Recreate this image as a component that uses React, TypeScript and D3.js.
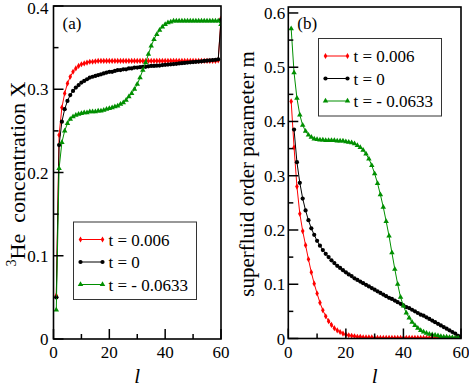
import React from "react";
import * as d3 from "d3";

// lattice layer index l = 1..60
const layers = d3.range(1, 61);

// (a) 3He concentration X
const concRed = [
  0.052, 0.245, 0.278, 0.295, 0.307, 0.315, 0.321, 0.325, 0.328, 0.33,
  0.331, 0.332, 0.333, 0.333, 0.3335, 0.334, 0.334, 0.334, 0.334, 0.334,
  0.334, 0.334, 0.334, 0.334, 0.334, 0.334, 0.334, 0.334, 0.334, 0.334,
  0.334, 0.334, 0.334, 0.334, 0.334, 0.334, 0.334, 0.334, 0.334, 0.334,
  0.334, 0.334, 0.334, 0.334, 0.334, 0.334, 0.334, 0.334, 0.334, 0.334,
  0.334, 0.334, 0.334, 0.334, 0.334, 0.334, 0.334, 0.334, 0.3345, 0.385,
];
const concBlack = [
  0.05, 0.233, 0.261, 0.276, 0.286, 0.293, 0.298, 0.302, 0.305, 0.308,
  0.31, 0.312, 0.314, 0.315, 0.316, 0.317, 0.318, 0.319, 0.32, 0.321,
  0.321, 0.322, 0.323, 0.323, 0.324, 0.324, 0.325, 0.325, 0.326, 0.326,
  0.3265, 0.327, 0.327, 0.3275, 0.328, 0.328, 0.3283, 0.3285, 0.329, 0.3293,
  0.3296, 0.33, 0.3303, 0.3306, 0.331, 0.3313, 0.3316, 0.332, 0.3323, 0.3326,
  0.333, 0.3333, 0.3336, 0.334, 0.3343, 0.3346, 0.335, 0.3353, 0.336, 0.383,
];
const concGreen = [
  0.035, 0.205, 0.236, 0.25, 0.259, 0.264, 0.267, 0.269, 0.27, 0.271,
  0.272, 0.272, 0.273, 0.273, 0.273, 0.274, 0.274, 0.275, 0.276, 0.277,
  0.278, 0.279, 0.28, 0.282, 0.284, 0.287, 0.291, 0.295, 0.3, 0.306,
  0.314, 0.323, 0.332, 0.342, 0.352, 0.36, 0.366, 0.371, 0.375, 0.378,
  0.38, 0.381, 0.382, 0.382, 0.382, 0.382, 0.382, 0.382, 0.382, 0.382,
  0.382, 0.382, 0.382, 0.382, 0.382, 0.382, 0.382, 0.382, 0.382, 0.378,
];

// (b) superfluid order parameter m
const orderRed = [
  0.437, 0.352, 0.28, 0.23, 0.198, 0.172, 0.146, 0.122, 0.101, 0.083,
  0.066, 0.052, 0.041, 0.032, 0.025, 0.019, 0.015, 0.012, 0.009, 0.007,
  0.006, 0.005, 0.004, 0.003, 0.003, 0.002, 0.002, 0.002, 0.002, 0.001,
  0.001, 0.001, 0.001, 0.001, 0.001, 0.001, 0.001, 0.001, 0.001, 0.001,
  0.001, 0.001, 0.001, 0.001, 0.001, 0.001, 0.001, 0.001, 0.001, 0.001,
  0.001, 0.001, 0.001, 0.001, 0.001, 0.001, 0.0005, 0.0005, 0.0005, 0,
];
const orderBlack = [
  null, 0.385, 0.325, 0.287, 0.258, 0.236, 0.218, 0.203, 0.191, 0.18,
  0.171, 0.163, 0.156, 0.15, 0.144, 0.139, 0.134, 0.13, 0.126, 0.122,
  0.118, 0.115, 0.111, 0.108, 0.105, 0.102, 0.099, 0.096, 0.093, 0.09,
  0.087, 0.084, 0.081, 0.078, 0.075, 0.073, 0.07, 0.067, 0.064, 0.061,
  0.058, 0.056, 0.053, 0.05, 0.047, 0.044, 0.042, 0.039, 0.036, 0.033,
  0.03, 0.027, 0.024, 0.021, 0.018, 0.015, 0.012, 0.009, 0.005, 0.002,
];
const orderGreen = [
  0.571, 0.49, 0.443, 0.412, 0.393, 0.382, 0.375, 0.371, 0.368, 0.367,
  0.366, 0.366, 0.365, 0.365, 0.365, 0.365, 0.364, 0.364, 0.364, 0.363,
  0.362, 0.361, 0.359, 0.356, 0.352, 0.347, 0.34, 0.331, 0.319, 0.304,
  0.286, 0.265, 0.242, 0.216, 0.189, 0.158, 0.128, 0.1, 0.076, 0.06,
  0.047, 0.038, 0.03, 0.024, 0.019, 0.015, 0.012, 0.01, 0.008, 0.007,
  0.006, 0.005, 0.004, 0.003, 0.003, 0.002, 0.002, 0.001, 0.001, 0,
];

const seriesNames = ["t = 0.006", "t = 0", "t = - 0.0633"];
const seriesColors = ["#ff0000", "#000000", "#008f00"];
const seriesSymbols = [d3.symbolDiamond, d3.symbolCircle, d3.symbolTriangle];
const symbolSizes = [11, 14, 13];

const FONT = "Liberation Serif";

const fmt = (v) => (v === 0 ? "0" : String(+v.toFixed(2)));

function Marker({ i, x, y }) {
  const p = d3.symbol().type(seriesSymbols[i]).size(symbolSizes[i])();
  return <path d={p} transform={`translate(${x},${y})`} fill={seriesColors[i]} />;
}

function Panel({ box, yMax, yMajor, yMinor, data, legend, tag, yLabel }) {
  const x = d3.scaleLinear().domain([0, 60]).range([box.left, box.right]);
  const y = d3.scaleLinear().domain([0, yMax]).range([box.bottom, box.top]);
  const line = d3
    .line()
    .defined((d) => d[1] != null)
    .x((d) => x(d[0]))
    .y((d) => y(d[1]));
  const clipId = "clip" + tag.replace(/\W/g, "");
  const txt = (size, extra = {}) => ({ fontFamily: FONT, fontSize: size, ...extra });

  return (
    <g>
      <clipPath id={clipId}>
        <rect x={box.left} y={box.top} width={box.right - box.left} height={box.bottom - box.top} />
      </clipPath>
      <g clipPath={`url(#${clipId})`}>
        {data.map((vals, i) => {
          const pts = layers.map((l, k) => [l, vals[k]]);
          return (
            <g key={i}>
              <path d={line(pts)} fill="none" stroke={seriesColors[i]} strokeWidth={1} />
              {pts
                .filter((d) => d[1] != null)
                .map((d, k) => (
                  <Marker key={k} i={i} x={x(d[0])} y={y(d[1])} />
                ))}
            </g>
          );
        })}
      </g>

      {/* ticks */}
      <g stroke="#000" strokeWidth={1.5}>
        {yMajor.map((v) => (
          <line key={"ym" + v} x1={box.left} x2={box.left + 10} y1={y(v)} y2={y(v)} />
        ))}
        {yMinor.map((v) => (
          <line key={"yn" + v} x1={box.left} x2={box.left + 5} y1={y(v)} y2={y(v)} />
        ))}
        {[0, 20, 40, 60].map((v) => (
          <line key={"xm" + v} x1={x(v)} x2={x(v)} y1={box.bottom} y2={box.bottom - 10} />
        ))}
        {[10, 30, 50].map((v) => (
          <line key={"xn" + v} x1={x(v)} x2={x(v)} y1={box.bottom} y2={box.bottom - 5} />
        ))}
      </g>
      <rect
        x={box.left}
        y={box.top}
        width={box.right - box.left}
        height={box.bottom - box.top}
        fill="none"
        stroke="#000"
        strokeWidth={1.6}
      />

      {/* tick labels */}
      <g fill="#000">
        {yMajor.map((v) => (
          <text
            key={"yl" + v}
            x={box.left - box.labelGap}
            y={Math.max(y(v) + 6, 13.5)}
            textAnchor="end"
            style={txt(17)}
          >
            {fmt(v)}
          </text>
        ))}
        {[0, 20, 40, 60].map((v) => (
          <text key={"xl" + v} x={x(v)} y={box.bottom + 19} textAnchor="middle" style={txt(17)}>
            {v}
          </text>
        ))}
      </g>

      <text x={box.left + 9} y={29} style={txt(17)}>
        {tag}
      </text>
      <text
        x={(box.left + box.right) / 2}
        y={383}
        textAnchor="middle"
        style={txt(21, { fontStyle: "italic" })}
      >
        l
      </text>
      {yLabel}

      {/* legend */}
      <g>
        <rect
          x={legend.x}
          y={legend.y}
          width={123}
          height={77.5}
          fill="#fff"
          stroke="#333"
          strokeWidth={1}
        />
        {seriesNames.map((name, i) => {
          const cy = legend.y + 17.5 + i * 22.5;
          const lx0 = legend.x + 7;
          const lx1 = legend.x + 29;
          return (
            <g key={name}>
              <line x1={lx0} x2={lx1} y1={cy} y2={cy} stroke={seriesColors[i]} strokeWidth={1} />
              <Marker i={i} x={lx0} y={cy} />
              <Marker i={i} x={lx1} y={cy} />
              <text x={legend.x + 35} y={cy + 6} style={txt(17)}>
                {name}
              </text>
            </g>
          );
        })}
      </g>
    </g>
  );
}

export default function App() {
  return (
    <svg
      width={469}
      height={389}
      style={{ position: "absolute", left: 0, top: 0, background: "#fff" }}
    >
      <Panel
        box={{ left: 53.5, right: 221, top: 6, bottom: 339, labelGap: 5 }}
        yMax={0.4}
        yMajor={[0, 0.1, 0.2, 0.3, 0.4]}
        yMinor={[0.05, 0.15, 0.25, 0.35]}
        data={[concRed, concBlack, concGreen]}
        legend={{ x: 73.5, y: 222 }}
        tag="(a)"
        yLabel={
          <text
            transform="translate(25,174) rotate(-90)"
            textAnchor="middle"
            style={{ fontFamily: FONT, fontSize: 22 }}
          >
            <tspan style={{ fontSize: 14 }} dy={-9}>
              3
            </tspan>
            <tspan dy={9}>{"He\u00a0 concentration X"}</tspan>
          </text>
        }
      />
      <Panel
        box={{ left: 288.3, right: 461, top: 7, bottom: 338.5, labelGap: 3 }}
        yMax={0.611}
        yMajor={[0, 0.1, 0.2, 0.3, 0.4, 0.5, 0.6]}
        yMinor={[0.05, 0.15, 0.25, 0.35, 0.45, 0.55]}
        data={[orderRed, orderBlack, orderGreen]}
        legend={{ x: 318.5, y: 38.5 }}
        tag="(b)"
        yLabel={
          <text
            transform="translate(254,174) rotate(-90)"
            textAnchor="middle"
            style={{ fontFamily: FONT, fontSize: 21 }}
          >
            superfluid order parameter m
          </text>
        }
      />
    </svg>
  );
}
